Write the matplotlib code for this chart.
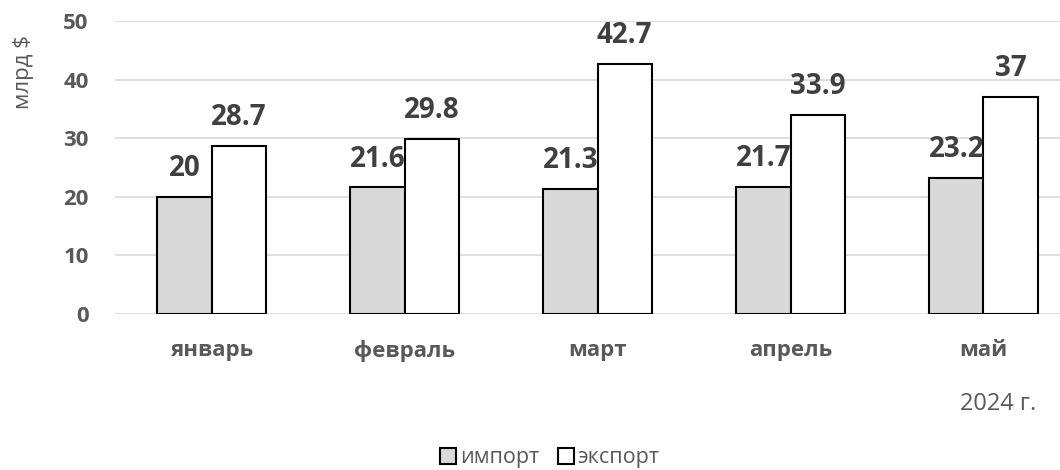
import matplotlib.pyplot as plt
import numpy as np

plt.rcParams['font.family'] = ['Open Sans', 'DejaVu Sans']

months = ['январь', 'февраль', 'март', 'апрель', 'май']
imports = [20, 21.6, 21.3, 21.7, 23.2]
exports = [28.7, 29.8, 42.7, 33.9, 37]
import_labels = ['20', '21.6', '21.3', '21.7', '23.2']
export_labels = ['28.7', '29.8', '42.7', '33.9', '37']
yticks = [0, 10, 20, 30, 40, 50]

fig = plt.figure(figsize=(10.6, 4.7), dpi=100)
ax = fig.add_axes([115/1060, 156/470, 965/1060, 293/470])

x = np.arange(len(months))
w = 0.28
b1 = ax.bar(x - w/2, imports, w, color='#d9d9d9', edgecolor='black', linewidth=1.5, label='импорт', zorder=3)
b2 = ax.bar(x + w/2, exports, w, color='white', edgecolor='black', linewidth=1.5, label='экспорт', zorder=3)

for xi, v, t in zip(x - w/2, imports, import_labels):
    ax.annotate(t, (xi, v), xytext=(0, 10), textcoords='offset points', ha='center', va='bottom',
                fontsize=20, fontweight='bold', color='#404040', zorder=4)
for xi, v, t in zip(x + w/2, exports, export_labels):
    ax.annotate(t, (xi, v), xytext=(0, 10), textcoords='offset points', ha='center', va='bottom',
                fontsize=20, fontweight='bold', color='#404040', zorder=4)

ax.set_xlim(-0.5, len(months) - 0.5)
ax.set_ylim(0, 50)
ax.set_yticks(yticks)
ax.set_xticks(x)
ax.set_xticklabels(months)
ax.yaxis.grid(True, color='#d9d9d9', linewidth=1.2, zorder=0)
ax.set_axisbelow(True)
for s in ax.spines.values():
    s.set_visible(False)
ax.tick_params(axis='y', length=0, pad=19, labelsize=16, labelcolor='#595959')
ax.tick_params(axis='x', length=0, pad=19, labelsize=16, labelcolor='#595959')
for lab in ax.get_xticklabels() + ax.get_yticklabels():
    lab.set_fontweight('bold')

fig.text(23/1060, 1 - 72/470, 'млрд $', rotation=90, ha='center', va='center', fontsize=16, color='#595959')
fig.text(998/1060, 1 - 404/470, '2024 г.', ha='center', va='center', fontsize=17, color='#595959')

fig.legend(handles=[b1, b2], loc='center', bbox_to_anchor=(550/1060, 1 - 458/470), ncol=2, frameon=False,
           fontsize=15.5, labelcolor='#595959', handlelength=0.75, handleheight=0.75, handletextpad=0.18,
           columnspacing=0.85)

fig.savefig('out.png', dpi=100)
